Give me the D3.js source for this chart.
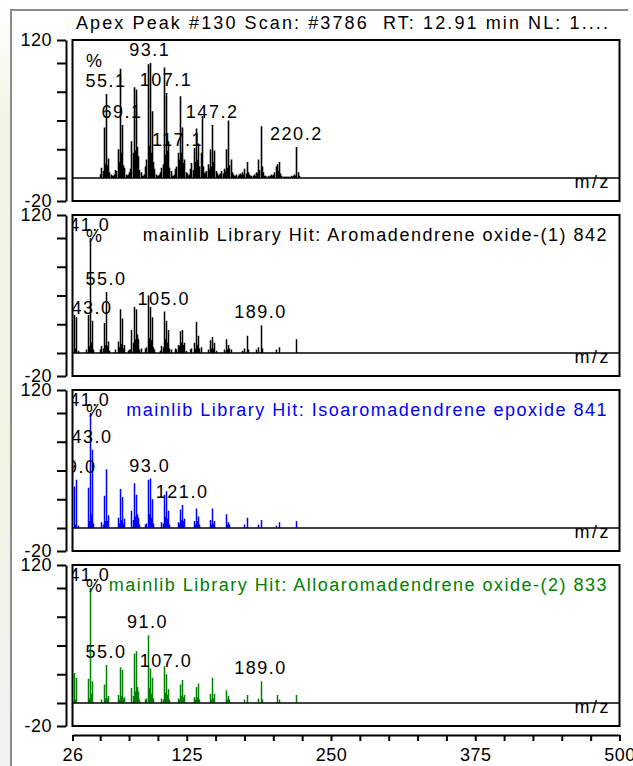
<!DOCTYPE html>
<html><head><meta charset="utf-8">
<script src="https://cdn.jsdelivr.net/npm/d3@7/dist/d3.min.js"></script>
<style>body{margin:0;background:#fff}svg{display:block}text{white-space:pre}</style>
</head><body>
<svg id="c" width="633" height="766"></svg>
<script>
// ---------- data ----------
const mzDomain = [26, 500];
const yDomain = [-20, 120];
const xTickValues = [26,50,75,100,125,150,175,200,225,250,275,300,325,350,375,400,425,450,475,500];
const xTickLabels = [26,125,250,375,500];
const yTickValues = [-20,0,25,50,75,100,120];
const yTickLabels = [-20,120];

const titleText = "Apex Peak #130 Scan: #3786  RT: 12.91 min NL: 1....";
const panelHeaders = ["",
  "mainlib Library Hit: Aromadendrene oxide-(1) 842",
  "mainlib Library Hit: Isoaromadendrene epoxide 841",
  "mainlib Library Hit: Alloaromadendrene oxide-(2) 833"];
const panelColors = ["#000000","#000000","#0000ff","#008000"];

// panel 1: acquired scan
const scanMz = [50,51,52,53,54,55,56,57,58,59,60,61,62,63,64,65,66,67,68,69,70,71,72,73,74,75,76,77,78,79,80,81,82,83,84,85,86,87,88,89,90,91,92,93,94,95,96,97,98,99,100,101,102,103,104,105,106,107,108,109,110,111,112,113,114,115,116,117,118,119,120,121,122,123,124,125,126,127,128,129,130,131,132,133,134,135,136,137,138,139,140,141,142,143,144,145,146,147,148,149,150,151,152,153,154,155,156,157,158,159,160,161,162,163,164,165,166,167,168,169,170,171,172,173,174,175,176,177,178,179,180,181,182,183,184,185,186,187,188,189,190,191,192,193,194,195,196,197,198,199,200,201,202,203,204,205,206,207,208,209,210,211,212,213,214,215,216,217,218,219,220,221,222];
const scanInt = [3,9,6,44,12,73,11,17,5,3,2,2,3,7,6,25,14,95,22,46,11,9,3,2,3,5,8,32,22,79,24,77,27,19,7,5,2,2,3,10,16,99,28,100,22,58,14,8,3,2,2,3,5,9,12,96,20,74,24,32,9,6,2,2,3,8,10,22,16,71,22,44,13,16,5,4,2,3,8,13,7,26,14,43,16,30,10,22,54,10,4,5,6,12,8,25,10,46,14,24,6,4,2,3,4,6,4,8,6,25,9,50,11,16,5,3,2,2,3,2,3,4,3,5,3,8,4,14,5,3,2,2,2,3,2,5,4,16,7,45,10,5,2,2,1,2,1,2,3,2,3,5,10,12,6,14,4,2,1,1,1,1,1,1,1,2,1,2,3,2,27,5,2];
const scanLabelText = ["93.1","55.1","107.1","69.1","147.2","117.1","220.2"];
const scanLabelMz   = [93,55,107,69,147,117,220];
const scanLabelInt  = [100,73,74,46,46,22,27];

// panel 2: Aromadendrene oxide-(1)
const lib1Mz  = [27,28,29,31,38,39,40,41,42,43,44,50,51,52,53,54,55,56,57,58,63,65,66,67,68,69,70,71,74,75,76,77,78,79,80,81,82,83,84,85,89,90,91,92,93,94,95,96,97,102,103,104,105,106,107,108,109,110,111,115,116,117,118,119,120,121,122,123,124,128,129,131,132,133,134,135,136,137,143,145,146,147,148,149,150,157,159,160,161,162,163,173,175,177,178,185,187,189,190,202,205,220];
const lib1Int = [33,4,31,2,3,33,6,100,9,28,3,3,6,4,26,7,53,6,10,2,3,10,5,38,8,30,4,7,2,3,3,20,9,40,12,38,16,12,3,4,4,5,50,13,40,11,31,5,3,2,6,5,36,12,28,9,20,4,3,4,3,7,6,19,9,20,7,9,2,3,4,9,4,27,7,15,4,5,3,11,4,14,4,9,2,3,12,3,7,4,3,2,4,15,3,3,5,24,4,3,5,12];
const lib1LabelText = ["41.0","55.0","43.0","105.0","189.0"];
const lib1LabelMz   = [41,55,43,105,189];
const lib1LabelInt  = [100,53,28,36,24];

// panel 3: Isoaromadendrene epoxide
const lib2Mz  = [27,28,29,31,39,40,41,42,43,44,51,52,53,54,55,56,57,65,66,67,68,69,70,71,77,78,79,80,81,82,83,84,89,90,91,92,93,94,95,96,103,104,105,106,107,108,109,110,117,118,119,120,121,122,123,131,132,133,134,135,136,145,146,147,148,149,159,160,161,162,175,177,187,189,202,205,220];
const lib2Int = [36,3,42,2,35,6,100,12,68,4,5,3,28,6,51,6,11,9,4,34,7,27,4,8,15,7,39,10,29,12,9,3,3,4,42,12,43,9,25,4,5,4,29,10,32,8,15,3,5,4,16,7,20,6,8,6,3,17,6,10,3,7,3,17,4,6,12,3,5,3,3,9,3,7,2,5,6];
const lib2LabelText = ["41.0","43.0","29.0","93.0","121.0"];
const lib2LabelMz   = [41,43,29,93,121];
const lib2LabelInt  = [100,68,42,43,20];

// panel 4: Alloaromadendrene oxide-(2)
const lib3Mz  = [27,28,29,39,40,41,42,43,51,53,54,55,56,57,65,66,67,68,69,70,71,77,78,79,80,81,82,83,84,89,90,91,92,93,94,95,96,103,104,105,106,107,108,109,110,117,118,119,120,121,122,123,131,132,133,134,135,136,145,146,147,148,149,159,160,161,162,175,177,187,189,190,203,205,220];
const lib3Int = [26,3,22,21,4,100,8,19,3,16,4,33,4,6,7,3,31,6,29,4,5,13,6,43,10,45,14,10,3,3,4,59,13,30,8,22,4,4,3,32,9,25,7,12,3,4,3,16,6,20,5,7,5,3,14,5,17,3,8,3,22,4,8,11,3,6,3,3,7,4,19,3,7,3,7];
const lib3LabelText = ["41.0","91.0","55.0","107.0","189.0"];
const lib3LabelMz   = [41,91,55,107,189];
const lib3LabelInt  = [100,59,33,25,19];

// ---------- drawing ----------
const FONT = "'Liberation Sans', Arial, Helvetica, sans-serif";
const svg = d3.select("#c");
const defs = svg.append("defs");

const grad = defs.append("linearGradient").attr("id","lg").attr("x1",0).attr("x2",0).attr("y1",0).attr("y2",1);
grad.append("stop").attr("offset","0%").attr("stop-color","#ffffff");
grad.append("stop").attr("offset","15%").attr("stop-color","#f1f5e6");
grad.append("stop").attr("offset","60%").attr("stop-color","#eef3e2");
grad.append("stop").attr("offset","100%").attr("stop-color","#f2f2f2");
svg.append("rect").attr("x",0).attr("y",0).attr("width",10).attr("height",766).attr("fill","url(#lg)");

// frame
svg.append("path").attr("d","M11,766 L11,10 L628,10").attr("fill","none").attr("stroke","#8c8c8c").attr("stroke-width",2);

svg.append("text").attr("x",76).attr("y",29).attr("font-family",FONT).attr("font-size",18)
  .attr("letter-spacing","2.1px").attr("fill","#000").attr("xml:space","preserve").text(titleText);

const x = d3.scaleLinear().domain(mzDomain).range([72.5, 619.5]);

const panels = [
  {mz: scanMz, it: scanInt, lt: scanLabelText, lm: scanLabelMz, li: scanLabelInt},
  {mz: lib1Mz, it: lib1Int, lt: lib1LabelText, lm: lib1LabelMz, li: lib1LabelInt},
  {mz: lib2Mz, it: lib2Int, lt: lib2LabelText, lm: lib2LabelMz, li: lib2LabelInt},
  {mz: lib3Mz, it: lib3Int, lt: lib3LabelText, lm: lib3LabelMz, li: lib3LabelInt}
];

panels.forEach((p, i) => {
  const top = 40 + 175 * i, h = 161;
  const y = d3.scaleLinear().domain(yDomain).range([top + h, top]);
  const col = panelColors[i];
  const cid = "clip" + i;
  defs.append("clipPath").attr("id", cid).append("rect")
    .attr("x", x.range()[0]).attr("y", top).attr("width", x.range()[1]-x.range()[0]).attr("height", h);
  const g = svg.append("g").attr("clip-path", `url(#${cid})`);

  // peaks
  g.selectAll("line.pk").data(p.mz.map((m,k)=>[m,p.it[k]])).join("line")
    .attr("class","pk")
    .attr("x1", d => Math.round(x(d[0])) + 0.5).attr("x2", d => Math.round(x(d[0])) + 0.5)
    .attr("y1", y(0)).attr("y2", d => y(d[1]))
    .attr("stroke", col).attr("stroke-width", i === 0 ? 1.6 : 1.5);

  // baseline
  g.append("line").attr("x1", x.range()[0]).attr("x2", x.range()[1])
    .attr("y1", y(0)).attr("y2", y(0)).attr("stroke","#000").attr("stroke-width",1.6);

  // m/z
  g.append("text").attr("x", 611).attr("y", y(0) + 10).attr("text-anchor","end")
    .attr("font-family",FONT).attr("font-size",18).attr("letter-spacing","2.5px").text("m/z");

  // peak labels
  g.selectAll("text.lab").data(p.lt.map((t,k)=>[t,p.lm[k],p.li[k]])).join("text")
    .attr("class","lab")
    .attr("x", d => x(d[1])).attr("y", d => y(d[2]) - 7)
    .attr("text-anchor","middle").attr("font-family",FONT).attr("font-size",18)
    .attr("letter-spacing","1.5px").attr("fill","#000").text(d => d[0]);

  // header
  if (panelHeaders[i]) {
    g.append("text").attr("x", 608).attr("y", top + 26).attr("text-anchor","end")
      .attr("font-family",FONT).attr("font-size",18).attr("letter-spacing","1.5px")
      .attr("fill", col).text(panelHeaders[i]);
  }
  // percent sign
  g.append("text").attr("x", 86).attr("y", top + 27).attr("font-family",FONT).attr("font-size",18)
    .attr("fill","#000").text("%");

  // box
  svg.append("rect").attr("x", x.range()[0]).attr("y", top)
    .attr("width", x.range()[1]-x.range()[0]).attr("height", h)
    .attr("fill","none").attr("stroke","#000").attr("stroke-width",2);

  // y axis
  const ya = d3.axisLeft(y).tickValues(yTickValues).tickSize(9).tickSizeOuter(0).tickPadding(5)
    .tickFormat(v => yTickLabels.includes(v) ? String(v) : "");
  const yg = svg.append("g").attr("transform","translate(66,0)").call(ya);
  yg.select(".domain").attr("stroke","#000").attr("stroke-width",2);
  yg.selectAll(".tick line").attr("stroke","#000").attr("stroke-width",2);
  yg.selectAll(".tick text").attr("font-family",FONT).attr("font-size",18).attr("fill","#000")
    .attr("dy","0.3em").attr("letter-spacing","0.5px");
});

// x axis
const xa = d3.axisBottom(x).tickValues(xTickValues).tickSize(6).tickSizeOuter(0).tickPadding(7)
  .tickFormat(v => xTickLabels.includes(v) ? String(v) : "");
const xg = svg.append("g").attr("transform","translate(0,735)").call(xa);
xg.select(".domain").attr("stroke","#000").attr("stroke-width",2);
xg.selectAll(".tick line").attr("stroke","#000").attr("stroke-width",2);
xg.selectAll(".tick text").attr("font-family",FONT).attr("font-size",18).attr("fill","#000")
  .attr("letter-spacing","0.5px");
</script>
</body></html>
